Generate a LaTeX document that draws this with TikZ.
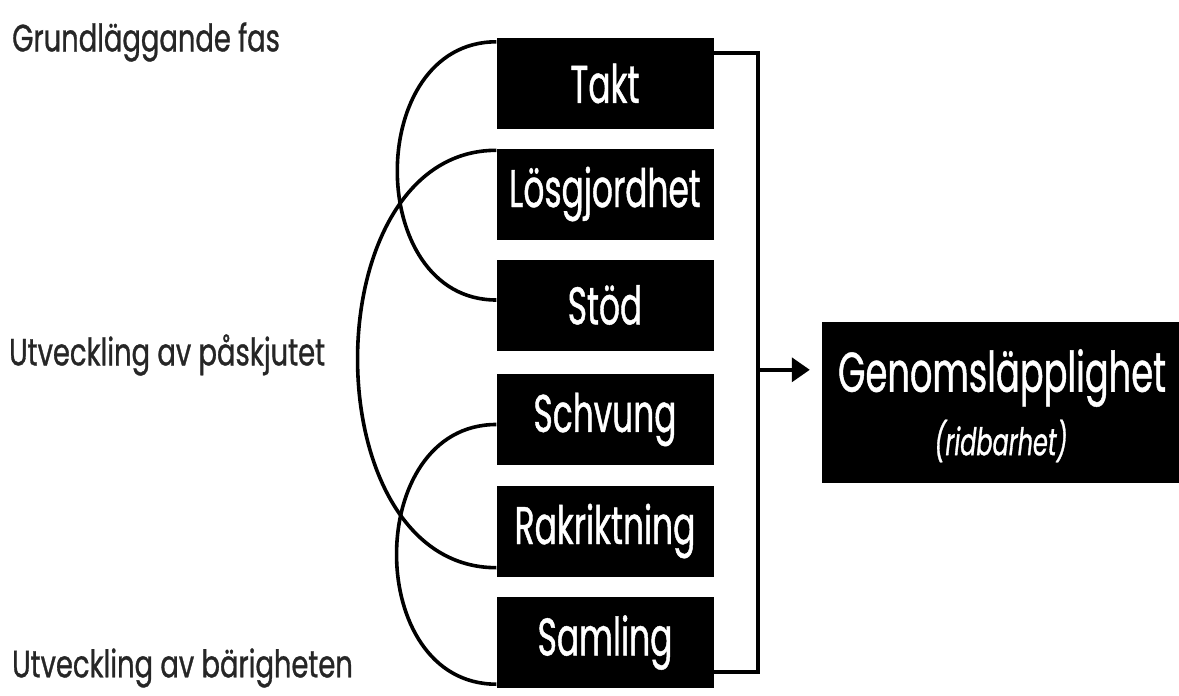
\documentclass[tikz,border=0pt]{standalone}
\usepackage{fontspec}
\setmainfont{Poppins}[FakeStretch=0.62,FakeBold=0.8]
\newfontfamily\lblfont{Poppins}[FakeStretch=0.72,FakeBold=0.8]
\newfontfamily\gfont{Poppins}[FakeStretch=0.63,FakeBold=0.8]
\usetikzlibrary{arrows.meta,calc}
\tikzset{
  stepbox/.style={fill=black,text=white,minimum width=217pt,minimum height=91pt,inner sep=0pt,font=\fontsize{53}{56}\selectfont},
  bigbox/.style={fill=black,text=white,minimum width=357pt,minimum height=161pt,inner sep=0pt,align=center},
  conn/.style={line width=3.6pt,draw=black},
  sidelabel/.style={anchor=west,inner sep=0pt,text=black!85,font=\lblfont\fontsize{38}{42}\selectfont}
}
\begin{document}
\begin{tikzpicture}[x=1pt,y=-1pt]
\useasboundingbox (0,0) rectangle (1179,696);
\fill[white] (0,0) rectangle (1179,696);
% boxes
\node[stepbox] (takt) at (605,83.5) {Takt};
\node[stepbox] (los) at (605,194) {Lösgjordhet};
\node[stepbox] (stod) at (605,305) {Stöd};
\node[stepbox] (schv) at (605,419.5) {Schvung};
\node[stepbox] (rak) at (605,531) {Rakriktning};
\node[stepbox] (saml) at (605,642.5) {Samling};
\node[bigbox] (genom) at (1000.5,402.5) {};
\node[text=white,inner sep=0pt,font=\gfont\fontsize{56}{60}\selectfont] (gtxt) at (1002,378) {Genomsläpplighet};
\node[text=white,inner sep=0pt,font=\gfont\itshape\fontsize{38}{42}\selectfont] (rtxt) at (1001,441) {(ridbarhet)};
% side labels
\node[sidelabel] (l1) at (12,42) {Grundläggande fas};
\node[sidelabel] (l2) at (9,355) {Utveckling av påskjutet};
\node[sidelabel] (l3) at (12,668) {Utveckling av bärigheten};
% arcs
\draw[conn] ($(takt.north west)+(0,4)$) .. controls ($(takt.north west)+(-132,4)$) and ($(stod.west)+(-132,-5)$) .. ($(stod.west)+(0,-5)$);
\draw[conn] ($(los.north west)+(0,2)$) .. controls ($(los.north west)+(-185,2)$) and ($(rak.south west)+(-185,-9)$) .. ($(rak.south west)+(0,-9)$);
\draw[conn] ($(schv.west)+(0,5)$) .. controls ($(schv.west)+(-133,5)$) and ($(saml.south west)+(-133,-4)$) .. ($(saml.south west)+(0,-4)$);
% bracket
\draw[conn] ($(takt.north east)+(0,15)$) -- ++(44,0) coordinate (bt) |- ($(saml.south east)+(0,-16)$);
\coordinate (j) at ($(bt)+(0,317)$);
\draw[conn,-{Triangle[length=18pt,width=24pt]},shorten >=12pt] (j) -- (j -| genom.west);
\end{tikzpicture}
\end{document}
